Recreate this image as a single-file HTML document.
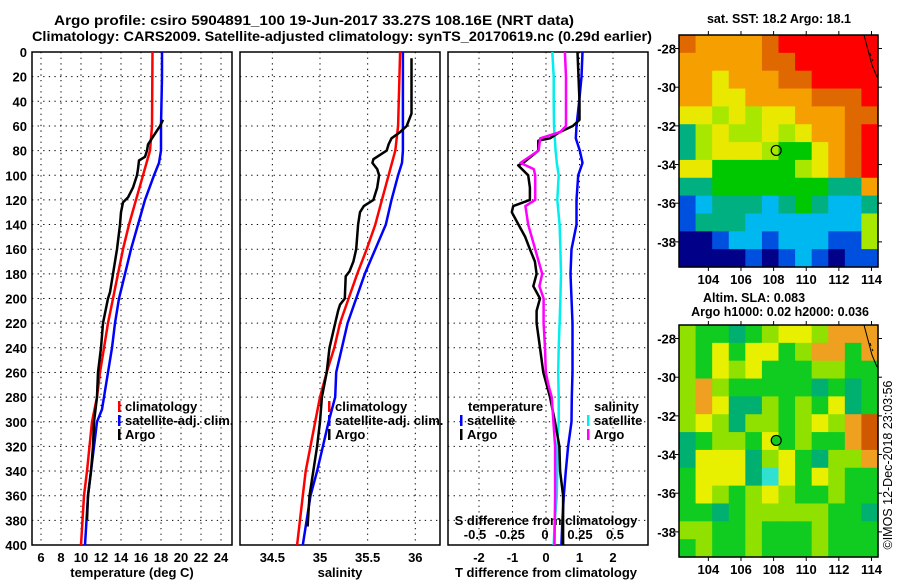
<!DOCTYPE html>
<html><head><meta charset="utf-8">
<style>
html,body{margin:0;padding:0;background:#fff;}
svg{display:block;font-family:"Liberation Sans",sans-serif;font-weight:bold;}
</style></head>
<body>
<svg id="chart" width="900" height="580" viewBox="0 0 900 580" xmlns="http://www.w3.org/2000/svg">
<text x="314" y="25" font-size="14" text-anchor="middle" textLength="520" lengthAdjust="spacingAndGlyphs">Argo profile: csiro 5904891_100 19-Jun-2017 33.27S 108.16E (NRT data)</text>
<text x="342" y="41" font-size="14" text-anchor="middle" textLength="620" lengthAdjust="spacingAndGlyphs">Climatology: CARS2009. Satellite-adjusted climatology: synTS_20170619.nc (0.29d earlier)</text>
<g id="g"></g>
</svg>
<script>
// ---------- data ----------
const depthTicks=[0,20,40,60,80,100,120,140,160,180,200,220,240,260,280,300,320,340,360,380,400];
const tTicks=[6,8,10,12,14,16,18,20,22,24];
const sTicks=[34.5,35,35.5,36];
const sTickLabels=["34.5","35","35.5","36"];
const dTicks=[-2,-1,0,1,2];
const dsTicks=[-0.5,-0.25,0,0.25,0.5];
const dsTickLabels=["-0.5","-0.25","0","0.25","0.5"];

const tClimDepth=[0,60,80,100,120,140,160,180,200,220,240,260,280,300,340,360,400];
const tClimVal=[17.15,17.1,16.9,16.2,15.5,14.8,14.2,13.7,13.2,12.7,12.3,11.9,11.6,11.1,10.6,10.3,10.0];
const tSatDepth=[0,20,60,80,90,100,120,140,160,180,200,220,240,260,290,300,340,360,400];
const tSatVal=[18.1,18.1,18.0,18.0,17.8,17.3,16.4,15.7,15.0,14.4,13.8,13.4,13.1,12.7,12.1,11.6,11.0,10.7,10.4];
const tArgoDepth=[55,60,70,75,80,85,88,95,100,110,118,122,130,140,160,180,195,200,220,240,260,280,300,320,340,360,380];
const tArgoVal=[18.2,17.9,17.1,16.7,16.6,16.4,15.8,15.7,15.6,15.2,14.7,14.2,14.0,13.9,13.6,13.2,12.9,12.7,12.2,12.0,11.7,11.6,11.3,11.2,11.0,10.7,10.6];

const sClimDepth=[0,60,80,100,120,140,160,180,200,220,240,260,280,300,340,360,400];
const sClimVal=[35.84,35.82,35.79,35.72,35.65,35.58,35.49,35.39,35.30,35.21,35.15,35.07,35.0,34.95,34.85,34.82,34.76];
const sSatDepth=[0,60,80,90,100,120,140,160,180,200,220,240,260,280,300,320,340,360,400];
const sSatVal=[35.87,35.87,35.87,35.86,35.82,35.75,35.69,35.58,35.47,35.38,35.29,35.23,35.17,35.16,35.09,35.03,34.97,34.90,34.82];
const sArgoDepth=[5,50,60,65,70,75,80,87,90,95,100,110,120,125,130,140,160,170,178,182,200,205,210,220,240,260,280,300,320,340,360,385];
const sArgoVal=[35.96,35.96,35.91,35.84,35.75,35.72,35.70,35.56,35.55,35.60,35.62,35.60,35.56,35.46,35.42,35.40,35.38,35.35,35.31,35.27,35.26,35.21,35.19,35.16,35.10,35.07,35.02,35.00,34.97,34.93,34.89,34.87];

const dDepth=[0,20,40,60,70,80,90,100,120,140,160,180,200,220,240,260,280,300,320,340,360,380,400];
const dTSat=[1.09,1.06,0.99,0.91,0.89,1.01,1.09,0.96,0.91,0.91,0.76,0.73,0.76,0.79,0.79,0.79,0.77,0.76,0.66,0.59,0.53,0.49,0.46];
const dSSat=[0.052,0.062,0.062,0.064,0.07,0.076,0.084,0.098,0.088,0.104,0.11,0.114,0.11,0.104,0.098,0.094,0.098,0.098,0.088,0.088,0.084,0.07,0.062];
const dArgoDepth=[0,20,40,55,60,65,70,72,80,90,92,100,110,120,125,130,140,150,160,170,180,190,200,210,220,240,260,280,300,320,340,360,380,400];
const dTArgo=[0.94,0.97,1.0,1.0,0.8,0.41,0.12,-0.23,-0.23,-0.68,-0.83,-0.53,-0.48,-0.48,-0.98,-1.02,-0.82,-0.62,-0.48,-0.33,-0.28,-0.38,-0.18,-0.28,-0.28,-0.18,-0.08,0.12,0.27,0.40,0.42,0.51,0.51,0.51];
const dSArgoDepth=[0,20,60,65,70,80,90,95,100,120,125,140,160,180,190,200,220,240,260,270,280,300,320,340,360,400];
const dSArgo=[0.142,0.15,0.15,0.108,-0.034,-0.046,-0.176,-0.08,-0.07,-0.07,-0.14,-0.12,-0.07,-0.02,-0.04,-0.01,-0.01,0.0,0.006,0.024,0.048,0.06,0.072,0.072,0.072,0.068];

// maps (coarse colour grids, rows north->south)
const sstRows=["DOOOODRRRRRR","OOOOODDRRRRR","OOYOOODDRRRR","OOYYOOOODDDR","YYLYLYYOOODD","TLYLLYLYOODR","TLYYYLGGYODR","YYGGGGGLYODR","TTGGGGGGGTTO","BCTTTCTGTCCT","BTTTCCCCCCCL","NNBCCBCCCBBL","NNNNBNBCBNBB"];
const slaRows=["LGGTGLYYLOOO","LGYGYYGLOOGO","LGYLYGGGLLGG","LOLGGGGGTGTG","LOYTTLGLGYTG","LYLTLLGLYLOR","TGLLGYGLGGOR","TYYYTLYGTLLO","GYYYTCYGYLGG","GYLGLYLGGLGG","GGTGLLLLLGGT","LLGGLGGGLGGG","GLGGLGGGLGGG"];
const sstColors={R:"#ff0000",D:"#e06800",O:"#f5a000",Y:"#e8e800",L:"#a8e800",G:"#00c800",T:"#00b080",C:"#00b8f0",B:"#0050e0",N:"#000088"};
const slaColors={R:"#d05800",O:"#f0a020",Y:"#e8f000",L:"#90e000",G:"#10cc20",T:"#00b070",C:"#30e0d0"};
const lonTicks=[104,106,108,110,112,114];
const latTicks=[-28,-30,-32,-34,-36,-38];
const argoLon=108.16, argoLat=-33.27;

// ---------- helpers ----------
const NS="http://www.w3.org/2000/svg";
const G=document.getElementById('g');
function mk(tag,attrs,parent){const e=document.createElementNS(NS,tag);for(const k in attrs)e.setAttribute(k,attrs[k]);(parent||G).appendChild(e);return e;}
function txt(x,y,s,size,anchor,parent){const e=mk('text',{x:x,y:y,'font-size':size,'text-anchor':anchor||'middle'},parent);e.textContent=s;return e;}

const Y0=52,Y1=545;
const yD=d=>Y0+(Y1-Y0)*d/400;
const xT=v=>41+(v-6)*10;
const xS=v=>320+(v-35)*95.3;
const xDT=v=>546+v*33.5;
const xDS=v=>545+v*140;
const panels=[[32,232],[240,440],[448,648]];

panels.forEach((p,i)=>{
  const f=mk('rect',{x:p[0],y:Y0,width:p[1]-p[0],height:Y1-Y0,fill:'#fff',stroke:'#000','stroke-width':1.5});
  
  
  depthTicks.forEach(d=>{
    if(d===0||d===400)return;
    const l=mk('line',{x1:p[0],x2:p[1],y1:yD(d),y2:yD(d),stroke:'#000','stroke-width':1,'stroke-dasharray':'1.3,4.3'});
    
    
  });
});
function vgrid(vals,fx,p){vals.forEach(v=>{const x=fx(v);if(x<=p[0]+1||x>=p[1]-1)return;
  const l=mk('line',{x1:x,x2:x,y1:Y0,y2:Y1,stroke:'#000','stroke-width':1,'stroke-dasharray':'1.3,4.3'});
  
  });}
vgrid(tTicks,xT,panels[0]);vgrid(sTicks,xS,panels[1]);vgrid(dTicks,xDT,panels[2]);

depthTicks.forEach(d=>{const t=txt(27,yD(d)+5,String(d),13,'end');
  
  });
tTicks.forEach(v=>{const t=txt(xT(v),562,String(v),13);});
sTicks.forEach((v,i)=>{const t=txt(xS(v),562,sTickLabels[i],13);});
dTicks.forEach(v=>{const t=txt(xDT(v),562,String(v),13);});
dsTicks.forEach((v,i)=>{const t=txt(xDS(v),539,dsTickLabels[i],13);});
let t;
t=txt(132,577,'temperature (deg C)',13);
t=txt(340,577,'salinity',13);
t=txt(546,577,'T difference from climatology',13);
t=txt(546,525,'S difference from climatology',13);

function series(depths,vals,fx,color,name,w){
  const pts=depths.map((d,i)=>fx(vals[i]).toFixed(1)+','+yD(d).toFixed(1)).join(' ');
  const l=mk('polyline',{points:pts,fill:'none',stroke:color,'stroke-width':w||2.5,'stroke-linejoin':'round'});
  
  
}
series(tClimDepth,tClimVal,xT,'#ff0000','temperature-climatology-line');
series(tSatDepth,tSatVal,xT,'#0000ff','temperature-satellite-line');
series(tArgoDepth,tArgoVal,xT,'#000','temperature-argo-line');
series(sClimDepth,sClimVal,xS,'#ff0000','salinity-climatology-line');
series(sSatDepth,sSatVal,xS,'#0000ff','salinity-satellite-line');
series(sArgoDepth,sArgoVal,xS,'#000','salinity-argo-line');
series(dDepth,dSSat,xDS,'#00eeee','s-diff-satellite-line');
series(dDepth,dTSat,xDT,'#0000ff','t-diff-satellite-line');
series(dArgoDepth,dTArgo,xDT,'#000','t-diff-argo-line');
series(dSArgoDepth,dSArgo,xDS,'#ff00ff','s-diff-argo-line');

function legItem(x,y,color,label,name){
  const m=mk('rect',{x:x,y:y-10,width:2.5,height:11,fill:color});
  
  
  const tt=txt(x+7,y,label,13,'start');
  
  
}
legItem(118,411,'#ff0000','climatology','legend-climatology');
legItem(118,425,'#0000ff','satellite-adj. clim.','legend-satellite');
legItem(118,439,'#000','Argo','legend-argo');
legItem(328,411,'#ff0000','climatology','legend2-climatology');
legItem(328,425,'#0000ff','satellite-adj. clim.','legend2-satellite');
legItem(328,439,'#000','Argo','legend2-argo');
t=txt(468,411,'temperature',13,'start');
legItem(460,425,'#0000ff','satellite','legend-t-satellite');
legItem(460,439,'#000','Argo','legend-t-argo');
t=txt(594,411,'salinity',13,'start');
legItem(587,425,'#00eeee','satellite','legend-s-satellite');
legItem(587,439,'#ff00ff','Argo','legend-s-argo');

function drawMap(top,bottom,rows,colors,name,circleFill){
  const L=679,R=878,lon0=102.2,lon1=114.4,lat0=-27.3,lat1=-39.3;
  const mx=v=>L+(v-lon0)*(R-L)/(lon1-lon0);
  const my=v=>top+(lat0-v)*(bottom-top)/(lat0-lat1);
  const g=mk('g',{});
  
  
  const nr=rows.length,nc=rows[0].length,cw=(R-L)/nc,ch=(bottom-top)/nr;
  rows.forEach((r,i)=>{for(let j=0;j<nc;j++){
    const c=mk('rect',{x:(L+j*cw).toFixed(2),y:(top+i*ch).toFixed(2),width:(cw+0.6).toFixed(2),height:(ch+0.6).toFixed(2),fill:colors[r[j]]},g);
    
    }});
  const cst=mk('path',{d:`M${R-14},${top} L${R-10},${top+15} L${R-6},${top+30} L${R-1},${top+42} M${R-8},${top+18} l1,3 M${R-6},${top+24} l1,2`,fill:'none',stroke:'#000','stroke-width':1},g);
  
  
  const fr=mk('rect',{x:L,y:top,width:R-L,height:bottom-top,fill:'none',stroke:'#000','stroke-width':1.5},g);
  
  
  lonTicks.forEach(v=>{const x=mx(v);
    mk('line',{x1:x,x2:x,y1:top,y2:top-4,stroke:'#000'},g);
    mk('line',{x1:x,x2:x,y1:bottom,y2:bottom+4,stroke:'#000'},g);
    const tl=txt(x,bottom+17,String(v),13,'middle',g);
    
    });
  latTicks.forEach(v=>{const y=my(v);
    mk('line',{x1:L,x2:L-4,y1:y,y2:y,stroke:'#000'},g);
    mk('line',{x1:R,x2:R+4,y1:y,y2:y,stroke:'#000'},g);
    const tl=txt(L-3,y+5,String(v),13,'end',g);
    
    });
  const c=mk('circle',{cx:mx(argoLon),cy:my(argoLat),r:5,fill:circleFill,stroke:'#000','stroke-width':1.2},g);
  
  
}
drawMap(35,267,sstRows,sstColors,'sst-map','none');
drawMap(325,557,slaRows,slaColors,'sla-map','#10cc20');
t=txt(779,23,'sat. SST: 18.2 Argo: 18.1',12.5);
t=txt(754,302,'Altim. SLA: 0.083',12.5);
t=txt(780,316,'Argo h1000: 0.02 h2000: 0.036',12.5);
t=txt(0,0,'©IMOS 12-Dec-2018 23:03:56',12.5,'middle');
t.setAttribute('transform','translate(892,465) rotate(-90)');
t.setAttribute('font-weight','normal');


</script>
</body></html>
